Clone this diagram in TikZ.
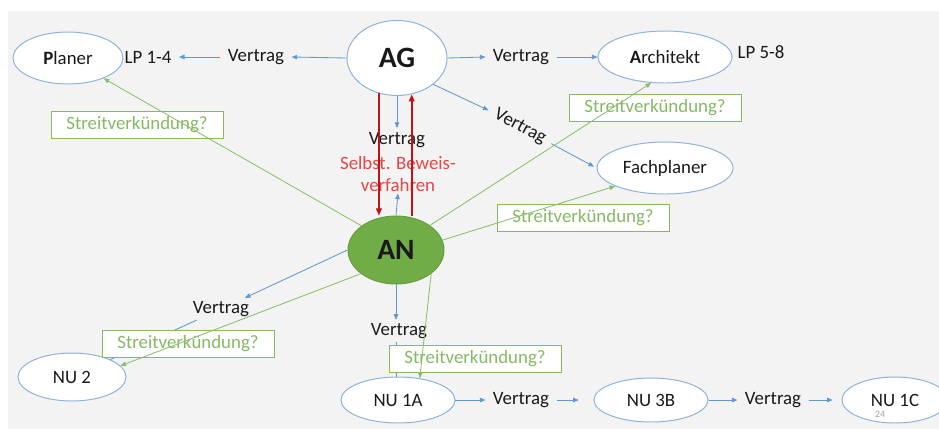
\documentclass[tikz,border=0pt]{standalone}
\usepackage{fontspec}
\setmainfont{Carlito}
\usetikzlibrary{shapes.geometric,arrows.meta}
\definecolor{bgc}{RGB}{243,243,243}
\definecolor{ellc}{RGB}{143,178,216}
\definecolor{bluc}{RGB}{98,152,206}
\definecolor{grnl}{RGB}{140,190,105}
\definecolor{grnt}{RGB}{135,185,100}
\definecolor{anfill}{RGB}{112,173,71}
\definecolor{redl}{RGB}{192,20,20}
\definecolor{redt}{RGB}{226,70,70}
\definecolor{txt}{RGB}{25,25,25}
\newcommand\nt{\fontsize{13.4pt}{15pt}\selectfont}
\newcommand\bt{\fontsize{21pt}{23pt}\selectfont\bfseries}
\tikzset{
  ell/.style 2 args={ellipse,draw=ellc,line width=0.7pt,fill=white,minimum width=#1*0.025cm,minimum height=#2*0.025cm,inner sep=0pt,font=\nt,text=txt},
  lab/.style={font=\nt,text=txt,inner xsep=0.18cm,inner ysep=0.08cm},
  sbox/.style={draw=grnt,fill=white,line width=0.6pt,text=grnt,font=\nt,minimum width=4.3cm,minimum height=0.66cm,inner sep=0pt},
  bl/.style={draw=bluc,line width=0.6pt,-{Triangle[length=4pt,width=3.2pt]}},
  bln/.style={draw=bluc,line width=0.6pt},
  gr/.style={draw=grnl,line width=0.6pt,-{Triangle[length=4pt,width=3.2pt]}},
  rd/.style={draw=redl,line width=1.4pt,-{Triangle[length=5pt,width=4pt]}}
}
\begin{document}
\begin{tikzpicture}[x=0.025cm,y=-0.025cm]
\useasboundingbox (0,0) rectangle (939,429);
\fill[bgc] (8,11) rectangle (939,429);

% ellipses
\node[ell={110}{52}] (Planer) at (68,58) {\textbf{P}laner};
\node[ell={100}{75}, font=\bt] (AG) at (397,58) {AG};
\node[ell={134}{52}] (Arch) at (665,57) {\textbf{A}rchitekt};
\node[ell={136}{52}] (Fach) at (665,168) {Fachplaner};
\node[ell={96}{68}, fill=anfill, draw=anfill!90!black, font=\bt] (AN) at (396,250) {AN};
\node[ell={108}{48}] (NU2) at (72,377) {NU 2};
\node[ell={114}{46}] (NU1A) at (398,400) {NU 1A};
\node[ell={114}{44}] (NU3B) at (651,400) {NU 3B};
\node[ell={106}{46}] (NU1C) at (895,400) {NU 1C};

% labels
\node[lab] (lp1) at (148,57) {LP 1-4};
\node[lab] (v1) at (256,57) {Vertrag};
\node[lab] (v2) at (521,57) {Vertrag};
\node[lab] (lp2) at (761,52) {LP 5-8};
\node[lab, rotate=-28] (v3) at (520,127) {Vertrag};
\node[lab, inner ysep=0.1cm] (vm) at (397,140) {Vertrag};
\node[font=\nt, text=redt, align=center, inner sep=0.05cm] (rt) at (398,174) {Selbst. Beweis-\\verfahren};
\node[lab] (v4) at (221,309) {Vertrag};
\node[lab] (v5) at (399,331) {Vertrag};
\node[lab] (v6) at (521,400) {Vertrag};
\node[lab] (v7) at (773,400) {Vertrag};
\node[font=\fontsize{7pt}{8pt}\selectfont, text=black!35] (pg) at (880,414) {24};

% blue contract arrows
\draw[bl] (AG.west) -- (v1.east);
\draw[bl] (v1.west) -- (lp1.east);
\draw[bl] (AG.east) -- (v2.west);
\draw[bl] (v2.east) -- (Arch.west);
\draw[bl] (AG.-36) -- (v3.west);
\draw[bl, shorten >=2pt] (v3.east) -- (Fach.west);
\draw[bl] (AG.south) -- (vm.north);
\draw[bl] (AN.north) -- (rt.south);
\draw[bl] (AN.west) -- (v4);
\draw[bln] (v4) -- (NU2);
\draw[bl] (AN.south) -- (AN.south |- v5.north);
\draw[bln] (AN.south |- v5.south) -- (AN.south |- NU1A.north);
\draw[bl] (NU1A.east) -- (v6.west);
\draw[bl, shorten >=0.37cm] (v6.east) -- (NU3B.west);
\draw[bl] (NU3B.east) -- (v7.west);
\draw[bl, shorten >=0.22cm] (v7.east) -- (NU1C.west);

% red arrows
\draw[rd] (AG.-117) -- (AG.-117 |- AN.north);
\draw[rd] (AG.-68 |- AN.north) -- (AG.-68);

% boxes
\node[sbox] (s1) at (137,125) {Streitverkündung?};
\node[sbox] (s2) at (655,108) {Streitverkündung?};
\node[sbox] (s3) at (583,218) {Streitverkündung?};
\node[sbox] (s4) at (188,344) {Streitverkündung?};
\node[sbox] (s5) at (475,359) {Streitverkündung?};

% green lines
\draw[gr] (AN.145) -- (Planer);
\draw[gr] (AN.36) -- (Arch.-118);
\draw[gr] (AN.12) -- (Fach.-160);
\draw[gr] (AN.214) -- (NU2.13);
\draw[gr] (AN.-34) -- (NU1A.45);
\end{tikzpicture}
\end{document}
